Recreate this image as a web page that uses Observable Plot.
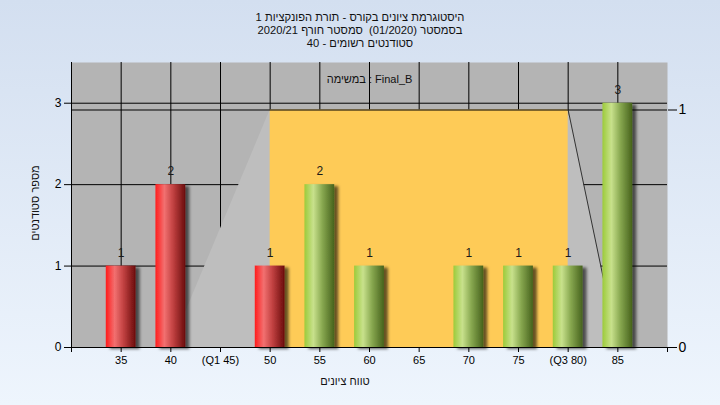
<!DOCTYPE html>
<html><head><meta charset="utf-8">
<script src="https://cdn.jsdelivr.net/npm/d3@7"></script>
<script src="https://cdn.jsdelivr.net/npm/@observablehq/plot@0.6"></script>
<style>
html,body{margin:0;padding:0}
body{width:720px;height:405px;overflow:hidden;background:linear-gradient(#d3dff0,#eef5fd);font-family:"Liberation Sans",Arial,sans-serif;position:relative;color:#111}
#title{position:absolute;left:0;top:10.5px;width:720px;font-size:11.2px;line-height:13px}
.row{display:flex;flex-direction:row;justify-content:center;column-gap:3.2px;direction:ltr}
.row span{white-space:pre;unicode-bidi:isolate}
#chart{position:absolute;left:0;top:55px}
.lbl{position:absolute;font-size:11px;line-height:13px}
#xlabel{left:345px;top:381px;transform:translate(-50%,-50%)}
#ylabel{left:35px;top:203px;transform:translate(-50%,-50%) rotate(-90deg)}
</style></head>
<body>
<div id="title"></div>
<div id="chart"></div>
<div id="xlabel" class="lbl row"></div>
<div id="ylabel" class="lbl row"></div>
<script>
// ---- data ----
// words listed in the order they appear from left to right on the chart
const titleLines = [
  ["1", "הפונקציות", "תורת", "-", "בקורס", "ציונים", "היסטוגרמת"],
  ["2020/21", "חורף", "סמסטר ", "(01/2020)", "בסמסטר"],
  ["40", "-", "רשומים", "סטודנטים"]
];
const taskLabel = "במשימה : Final_B";
const xAxisTitle = ["ציונים", "טווח"];
const yAxisTitle = ["סטודנטים", "מספר"];

const grades = [35, 40, 45, 50, 55, 60, 65, 70, 75, 80, 85];
const counts = [1, 2, 0, 1, 2, 1, 0, 1, 1, 1, 3];
const passed = [false, false, false, false, true, true, true, true, true, true, true];

const xTicks = [30, 35, 40, 45, 50, 55, 60, 65, 70, 75, 80, 85, 90];
const xTickLabels = ["", "35", "40", "(Q1 45)", "50", "55", "60", "65", "70", "75", "(Q3 80)", "85", ""];
const yTicks = [0, 1, 2, 3];
const y2Ticks = [0, 1];

// secondary-axis distribution shape (right axis units)
const shapeX = [40, 50, 80, 85];
const shapeV = [0, 1, 1, 0];
const bandX = [50, 80];
const bandV = 1;

const yMax = 3.5, y2Max = 1.2;
const k = yMax / y2Max;

// ---- text ----
function fillRow(el, words) {
  words.forEach(w => {
    const s = document.createElement("span");
    s.textContent = w;
    el.appendChild(s);
  });
}
const titleEl = document.getElementById("title");
titleLines.forEach(ws => {
  const r = document.createElement("div");
  r.className = "row";
  fillRow(r, ws);
  titleEl.appendChild(r);
});
fillRow(document.getElementById("xlabel"), xAxisTitle);
fillRow(document.getElementById("ylabel"), yAxisTitle);

// ---- tables ----
const bars = grades.map((g, i) => ({g, c: counts[i], pass: passed[i]})).filter(d => d.c > 0);
const shape = shapeX.map((x, i) => ({x, v: shapeV[i]}));
const band = [{x1: bandX[0], x2: bandX[1], v: bandV}];
const half = 1.5;

const svg = Plot.plot({
  width: 720, height: 350,
  marginTop: 7, marginBottom: 58, marginLeft: 71, marginRight: 53,
  style: {background: "transparent", fontFamily: "Liberation Sans, Arial, sans-serif", fontSize: "11px", color: "#000", overflow: "visible"},
  x: {domain: [30, 90]},
  y: {domain: [0, yMax]},
  marks: [
    Plot.frame({fill: "#b4b4b4", stroke: null}),
    Plot.ruleX(xTicks.slice(0, -1), {stroke: "#000", strokeWidth: 1}),
    Plot.ruleY(yTicks.slice(1), {stroke: "#000", strokeWidth: 1}),
    Plot.areaY(shape, {x: "x", y: d => d.v * k, fill: "#bebebe", curve: "linear"}),
    Plot.rect(band, {x1: "x1", x2: "x2", y1: 0, y2: d => d.v * k, fill: "#fecb57"}),
    Plot.ruleY([bandV * k], {stroke: "#000", strokeWidth: 1}),
    Plot.line(shape.filter(d => d.x >= bandX[1]), {x: "x", y: d => d.v * k, stroke: "#333", strokeWidth: 1}),
    Plot.rect(bars.filter(d => !d.pass), {x1: d => d.g - half, x2: d => d.g + half, y1: 0, y2: "c", fill: "url(#gRed)", ariaDescription: "bars"}),
    Plot.rect(bars.filter(d => d.pass), {x1: d => d.g - half, x2: d => d.g + half, y1: 0, y2: "c", fill: "url(#gGreen)", ariaDescription: "bars"}),
    Plot.text(bars, {x: "g", y: "c", text: d => String(d.c), dy: -13, fontSize: 12, fill: "#1a1a1a"}),
    Plot.text([taskLabel], {frameAnchor: "top", dy: 13, fontSize: 11, fill: "#111"}),
    Plot.ruleY([0], {stroke: "#000", strokeWidth: 1}),
    Plot.axisY(yTicks, {anchor: "left", tickSize: 7, tickPadding: 3, fontSize: 12, label: null, tickFormat: d => String(d)}),
    Plot.axisY(y2Ticks.map(v => v * k), {anchor: "right", tickSize: 9, tickPadding: 2, fontSize: 14, label: null, tickFormat: d => String(Math.round(d / k))}),
    Plot.axisX(xTicks, {anchor: "bottom", tickSize: 5, tickPadding: 4, fontSize: 11, label: null, tickFormat: (d) => xTickLabels[xTicks.indexOf(d)]})
  ]
});

const defs = d3.select(svg).insert("defs", ":first-child");
function grad(id, stops) {
  const g = defs.append("linearGradient").attr("id", id).attr("x1", "0").attr("x2", "1").attr("y1", "0").attr("y2", "0");
  stops.forEach(([o, c]) => g.append("stop").attr("offset", o).attr("stop-color", c));
}
grad("gRed", [["0", "#ff1c1c"], ["0.3", "#f27070"], ["0.6", "#c04040"], ["1", "#6a0c0c"]]);
grad("gGreen", [["0", "#9ccb3a"], ["0.3", "#c8e18c"], ["0.6", "#88a850"], ["1", "#46621c"]]);
const f = defs.append("filter").attr("id", "shadow").attr("x", "-20%").attr("y", "-10%").attr("width", "160%").attr("height", "130%");
f.append("feDropShadow").attr("dx", 4).attr("dy", 2).attr("stdDeviation", 1.6).attr("flood-color", "#000").attr("flood-opacity", 0.6);
d3.select(svg).selectAll('g[aria-description="bars"]').attr("filter", "url(#shadow)");

document.getElementById("chart").appendChild(svg);
</script>
</body></html>
